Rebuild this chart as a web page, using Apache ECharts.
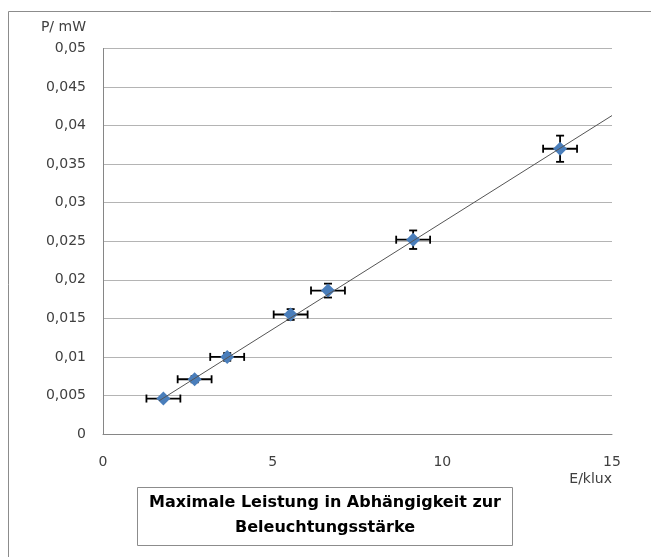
<!DOCTYPE html>
<html>
<head>
<meta charset="utf-8">
<script src="https://cdn.jsdelivr.net/npm/echarts@6/dist/echarts.min.js"></script>
<style>html,body{margin:0;padding:0;background:#fff}#c{width:651px;height:557px}</style>
</head>
<body>
<div id="c"></div>
<script>
// Data
var illuminance = [1.78, 2.7, 3.66, 5.53, 6.63, 9.14, 13.47];      // E / klux
var power = [0.0046, 0.0071, 0.0100, 0.0155, 0.0186, 0.0252, 0.0370]; // P / mW
var errE = [0.5, 0.5, 0.5, 0.5, 0.5, 0.5, 0.5];
var errP = [0.0002, 0.0004, 0.0005, 0.0007, 0.0009, 0.0012, 0.0017];
var trendE = [1.65, 15];
var trendP = [0.0043, 0.0413];
var titleLines = ['Maximale Leistung in Abhängigkeit zur', 'Beleuchtungsstärke'];

var FONT = 'DejaVu Sans';
var chart = echarts.init(document.getElementById('c'), null, {renderer: 'canvas'});

var pts = illuminance.map(function (x, i) { return [x, power[i]]; });
var errData = illuminance.map(function (x, i) { return [x, power[i], errE[i], errP[i]]; });
var trend = trendE.map(function (x, i) { return [x, trendP[i]]; });

function fmtY(v) {
  var s = String(+v.toFixed(4));
  return s.replace('.', ',');
}

var option = {
  animation: false,
  backgroundColor: '#fff',
  grid: {left: 103, right: 39, top: 48.5, bottom: 123, containLabel: false},
  xAxis: {
    type: 'value', min: 0, max: 15, interval: 5,
    axisLine: {show: true, lineStyle: {color: '#868686', width: 1}},
    axisTick: {show: false},
    splitLine: {show: false},
    axisLabel: {color: '#404040', fontFamily: FONT, fontSize: 14, margin: 21},
    name: 'E/klux', nameLocation: 'end', nameGap: 0,
    nameTextStyle: {color: '#404040', fontFamily: FONT, fontSize: 14, align: 'right', verticalAlign: 'top', padding: [38, 0, 0, 0]}
  },
  yAxis: {
    type: 'value', min: 0, max: 0.05, interval: 0.005,
    axisLine: {show: true, lineStyle: {color: '#868686', width: 1}},
    axisTick: {show: false},
    splitLine: {show: true, lineStyle: {color: '#b4b4b4', width: 1}},
    axisLabel: {color: '#404040', fontFamily: FONT, fontSize: 14, margin: 17, formatter: fmtY},
    name: 'P/ mW', nameLocation: 'end', nameGap: 14,
    nameTextStyle: {color: '#404040', fontFamily: FONT, fontSize: 14, align: 'right', padding: [0, 17, 0, 0]}
  },
  graphic: [
    {type: 'rect', shape: {x: 8.5, y: 11.5, width: 700, height: 600}, style: {fill: 'none', stroke: '#8c8c8c', lineWidth: 1}, z: -10},
    {type: 'rect', shape: {x: 137.5, y: 487.5, width: 375, height: 58}, style: {fill: '#fff', stroke: '#8c8c8c', lineWidth: 1}, z: 10},
    {type: 'text', x: 325, y: 503, style: {text: titleLines[0], fill: '#000', font: 'bold 16px "' + FONT + '"', textAlign: 'center', textVerticalAlign: 'middle'}, z: 11},
    {type: 'text', x: 325, y: 528, style: {text: titleLines[1], fill: '#000', font: 'bold 16px "' + FONT + '"', textAlign: 'center', textVerticalAlign: 'middle'}, z: 11}
  ],
  series: [
    {
      type: 'custom', data: errData, z: 2,
      renderItem: function (params, api) {
        var x = api.value(0), y = api.value(1), ex = api.value(2), ey = api.value(3);
        var L = api.coord([x - ex, y]), R = api.coord([x + ex, y]);
        var T = api.coord([x, y + ey]), B = api.coord([x, y - ey]);
        var st = {stroke: '#000', lineWidth: 1.8};
        var c = 4;
        return {type: 'group', children: [
          {type: 'line', shape: {x1: L[0], y1: L[1], x2: R[0], y2: R[1]}, style: st},
          {type: 'line', shape: {x1: L[0], y1: L[1] - c, x2: L[0], y2: L[1] + c}, style: st},
          {type: 'line', shape: {x1: R[0], y1: R[1] - c, x2: R[0], y2: R[1] + c}, style: st},
          {type: 'line', shape: {x1: T[0], y1: T[1], x2: B[0], y2: B[1]}, style: st},
          {type: 'line', shape: {x1: T[0] - c, y1: T[1], x2: T[0] + c, y2: T[1]}, style: st},
          {type: 'line', shape: {x1: B[0] - c, y1: B[1], x2: B[0] + c, y2: B[1]}, style: st}
        ]};
      }
    },
    {
      type: 'scatter', data: pts, symbol: 'diamond', symbolSize: [14, 14],
      itemStyle: {color: '#4a7ebb', opacity: 1}, z: 3
    },
    {
      type: 'line', data: trend, showSymbol: false, symbol: 'none',
      lineStyle: {color: '#555', width: 1}, z: 4
    }
  ]
};
chart.setOption(option);
</script>
</body>
</html>
